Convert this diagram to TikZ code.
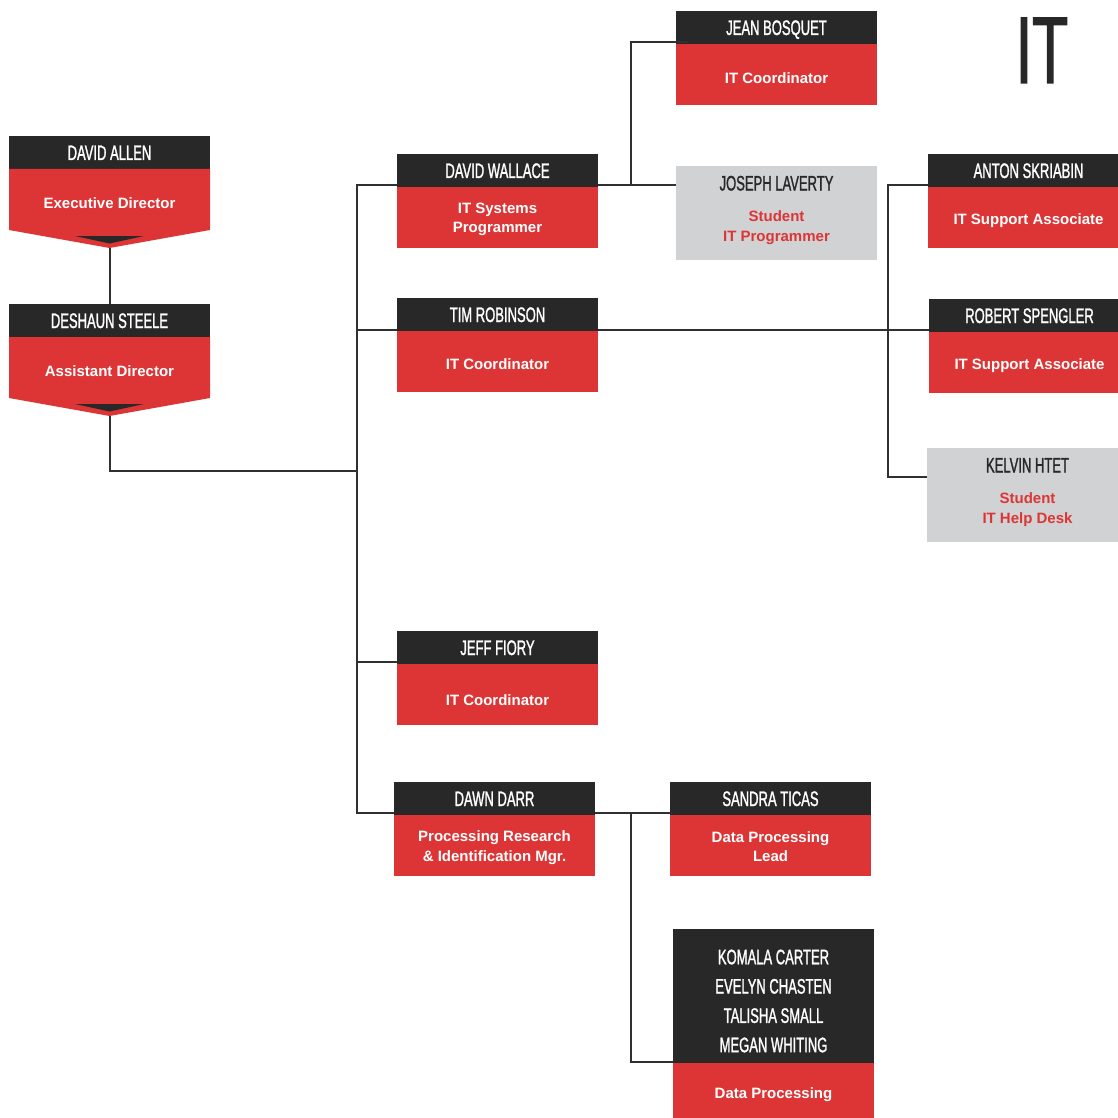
\documentclass[tikz,border=0pt]{standalone}
\usepackage{fontspec}
\setmainfont{Liberation Sans}
\newfontfamily\namefont[FakeStretch=0.62,FakeBold=1.2]{Liberation Sans}
\definecolor{cdark}{RGB}{40,40,40}
\definecolor{cred}{RGB}{221,53,53}
\definecolor{cgray}{RGB}{209,210,212}
\definecolor{cline}{RGB}{48,48,48}
% #1 text drop, #2 id, #3 x, #4 y, #5 width, #6 name, #7 role
\newcommand\staff[7][2.5]{%
  \node[head,minimum width=#5pt,anchor=north west] (#2) at (#3,#4) {#6};
  \node[role,minimum width=#5pt,anchor=north] (#2-t) at (#2.south) {};
  \node[rolelabel] (#2-l) at ([yshift=-#1pt]#2-t.center) {#7};}
\tikzset{
  head/.style={fill=cdark,text=white,inner sep=0pt,outer sep=0pt,minimum height=33pt,
    text height=15pt,text depth=0pt,font=\namefont\fontsize{21}{25}\selectfont},
  role/.style={fill=cred,inner sep=0pt,outer sep=0pt,minimum height=61pt},
  graybox/.style={fill=cgray,inner sep=0pt,outer sep=0pt,minimum width=201pt,minimum height=94pt},
  gname/.style={text=cdark,inner sep=0pt,text height=15pt,text depth=0pt,
    font=\namefont\fontsize{21}{25}\selectfont},
  grole/.style={text=cred,inner sep=0pt,align=center,font=\fontsize{15}{20}\selectfont\bfseries},
  rolelabel/.style={text=white,inner sep=0pt,align=center,font=\fontsize{15}{19.5}\selectfont\bfseries},
  conn/.style={draw=cline,line width=2pt},
}
\begin{document}
\begin{tikzpicture}[x=1pt,y=-1pt]
\useasboundingbox (0,0) rectangle (1117,1118);

% title
\node[text=cdark,inner sep=0pt,anchor=base,font=\namefont\fontsize{95}{95}\selectfont] (title) at (1042,83) {IT};

% David Allen
\node[head,minimum width=201pt,anchor=north west] (allen) at (9,136) {DAVID ALLEN};
\fill[cred] (9,169) -- (210,169) -- (210,230) -- (109.5,248) -- (9,230) -- cycle;
\fill[cdark] (75,236) -- (144,236) -- (109.5,243.5) -- cycle;
\node[rolelabel] (allen-t) at (109.5,203) {Executive Director};
\coordinate (allen-tip) at (109.5,248);

% Deshaun Steele
\node[head,minimum width=201pt,anchor=north west] (deshaun) at (9,304) {DESHAUN STEELE};
\fill[cred] (9,337) -- (210,337) -- (210,398) -- (109.5,416) -- (9,398) -- cycle;
\fill[cdark] (75,404) -- (144,404) -- (109.5,411.5) -- cycle;
\node[rolelabel] (deshaun-t) at (109.5,371) {Assistant Director};
\coordinate (deshaun-tip) at (109.5,416);

% second level
\staff[2]{wallace}{397}{154}{201}{DAVID WALLACE}{IT Systems\\Programmer}
\staff[3]{tim}{397}{298}{201}{TIM ROBINSON}{IT Coordinator}
\staff[5.5]{jeff}{397}{631}{201}{JEFF FIORY}{IT Coordinator}
\staff[2]{dawn}{394}{782}{201}{DAWN DARR}{Processing Research\\\& Identification Mgr.}

% third level
\staff[4]{jean}{676}{11}{201}{JEAN BOSQUET}{IT Coordinator}
\node[graybox,anchor=north west] (joseph) at (676,166) {};
\node[gname] (joseph-n) at (776.5,183) {JOSEPH LAVERTY};
\node[grole] (joseph-r) at (776.5,227.5) {Student\\IT Programmer};

\staff[3]{anton}{928}{154}{201}{ANTON SKRIABIN}{IT Support Associate}
\staff[3]{robert}{929}{299}{201}{ROBERT SPENGLER}{IT Support Associate}
\node[graybox,anchor=north west] (kelvin) at (927,448) {};
\node[gname] (kelvin-n) at (1027.5,465) {KELVIN HTET};
\node[grole] (kelvin-r) at (1027.5,509.5) {Student\\IT Help Desk};

\staff[1]{sandra}{670}{782}{201}{SANDRA TICAS}{Data Processing\\Lead}
\node[fill=cdark,inner sep=0pt,outer sep=0pt,minimum width=201pt,minimum height=134pt,anchor=north west] (group) at (673,929) {};
\node[text=white,inner sep=0pt,align=center,font=\namefont\fontsize{21}{29.3}\selectfont] (group-n) at (773.5,1001) {KOMALA CARTER\\EVELYN CHASTEN\\TALISHA SMALL\\MEGAN WHITING};
\node[role,minimum width=201pt,minimum height=55pt,anchor=north] (group-t) at (group.south) {};
\node[rolelabel] (group-l) at (773.5,1095) {Data Processing};

% connectors
\coordinate (trunk) at (357,471);
\draw[conn] (allen-tip) -- (deshaun.north);
\draw[conn] (deshaun-tip) |- (trunk);
\draw[conn] ([yshift=2pt]wallace.south west) -| (trunk) |- ([yshift=2pt]dawn.south west);
\draw[conn] ([yshift=1pt]tim.south west) -| (trunk);
\draw[conn] ([yshift=2pt]jeff.south west) -| (trunk);

\coordinate (wr) at ([yshift=2pt]wallace.south east);
\coordinate (wj) at (631,0);
\draw[conn] (wr) -- (wr -| joseph.west);
\draw[conn] (wr -| wj) |- ([xshift=12pt,yshift=1.5pt]jean.south west);

\coordinate (tr) at ([yshift=1.5pt]tim.south east);
\draw[conn] (tr) -- (tr -| robert.west);
\coordinate (rv) at (888,477);
\draw[conn] ([yshift=2pt]anton.south west) -| (rv) -- (rv -| kelvin.west);

\coordinate (dr) at ([yshift=2pt]dawn.south east);
\coordinate (dv) at (631,0);
\draw[conn] (dr) -- ([xshift=2pt]dr -| sandra.west);
\draw[conn] (dr -| dv) |- ([yshift=1pt]group.south west);
\end{tikzpicture}
\end{document}
